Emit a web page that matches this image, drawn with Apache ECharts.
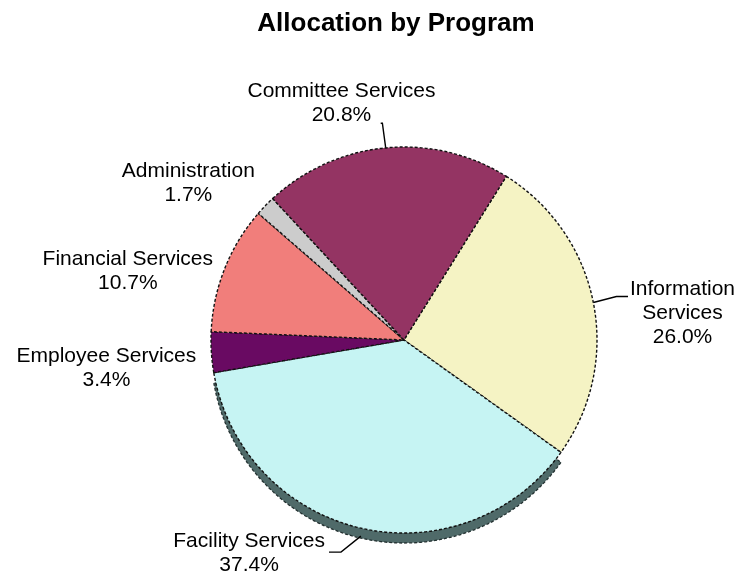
<!DOCTYPE html>
<html>
<head>
<meta charset="utf-8">
<title>Allocation by Program</title>
<script src="https://cdn.jsdelivr.net/npm/echarts@6/dist/echarts.min.js"></script>
<style>
  html, body { margin: 0; padding: 0; background: #ffffff; }
  #chart { width: 740px; height: 577px; }
</style>
</head>
<body>
<div id="chart"></div>
<script>
// Budget share per program, in percent (clockwise from the upper right)
const programs = ['Information Services', 'Facility Services', 'Employee Services',
                  'Financial Services', 'Administration', 'Committee Services'];
const percents = [26.0, 37.4, 3.4, 10.7, 1.7, 20.8];
const sliceColors = ['#f5f3c4', '#c6f4f3', '#690a62', '#f17e7b', '#cccccc', '#943463'];
const wrappedNames = { 'Information Services': 'Information\nServices' };
const withLeader = ['Information Services', 'Facility Services', 'Committee Services'];

// Pie geometry in pixels
const CX = 404, CY = 340, R = 193, START_ANGLE = 58;
const DEPTH = 10;          // height of the pie's side wall
const LABEL_GAP = 12;      // space between rim and label block
const LINE_H = 24;
const FONT = "'Liberation Sans', Arial, Helvetica, sans-serif";

// Hand adjustments of label blocks away from their radial spot
const labelShift = {
  'Information Services': [20, 24],
  'Facility Services': [-100, -26],
  'Employee Services': [-2, 9],
  'Financial Services': [-4, 40],
  'Administration': [-22, 31],
  'Committee Services': [-40, 0]
};

const total = percents.reduce((a, b) => a + b, 0);
const midAngles = [];
let acc = 0;
percents.forEach(v => {
  midAngles.push((90 - START_ANGLE + 360 * (acc + v / 2) / total) * Math.PI / 180);
  acc += v;
});

const clamp = (v, lo, hi) => Math.max(lo, Math.min(hi, v));

function placeLabel(p) {
  const name = programs[p.dataIndex];
  const a = midAngles[p.dataIndex];
  const ux = Math.sin(a), uy = -Math.cos(a);
  const w = p.labelRect.width, h = p.labelRect.height;
  const t = R + LABEL_GAP + (w / 2) * Math.abs(ux) + (h / 2) * Math.abs(uy);
  const s = labelShift[name] || [0, 0];
  const cx = CX + t * ux + s[0];
  const cy = CY + t * uy + s[1];
  const out = { x: cx, y: cy, align: 'center', verticalAlign: 'middle' };
  if (withLeader.indexOf(name) >= 0) {
    const below = uy > 0.3;
    const ex = CX + R * ux;
    const ey = CY + R * uy + (below ? DEPTH * 0.8 : 0);
    const left = cx - w / 2, right = cx + w / 2, top = cy - h / 2, bottom = cy + h / 2;
    let end;
    if (ex < left || ex > right) {
      const yEnd = below ? top + LINE_H - 1 : clamp(ey - 6, top + 10, bottom - 10);
      end = [ex < left ? left - 2 : right + 4, yEnd];
    } else {
      end = [ex - 5, ey < top ? top + 2 : bottom - 4];
    }
    const dx = ex - end[0];
    const mid = below
      ? [end[0] + Math.sign(dx) * 12, end[1]]
      : [end[0] + Math.sign(dx) * Math.min(12, Math.abs(dx) / 3), end[1]];
    out.labelLinePoints = [[ex, ey], mid, end];
  }
  return out;
}

const mainData = programs.map((name, i) => ({
  name: name,
  value: percents[i],
  itemStyle: { color: sliceColors[i] },
  labelLine: { show: withLeader.indexOf(name) >= 0 }
}));

// Side wall only shows below the large lower slice
const wallData = programs.map((name, i) => ({
  name: name,
  value: percents[i],
  itemStyle: name === 'Facility Services'
    ? { color: '#4f6a69', borderColor: '#223030', borderWidth: 1.3, borderType: [3, 2] }
    : { color: 'rgba(0,0,0,0)', borderWidth: 0 }
}));

const chart = echarts.init(document.getElementById('chart'), null, { renderer: 'canvas' });
chart.setOption({
  backgroundColor: '#ffffff',
  animation: false,
  title: {
    text: 'Allocation by Program',
    left: 391,
    top: 6,
    textAlign: 'center',
    textStyle: { fontFamily: FONT, fontSize: 26, fontWeight: 'bold', color: '#000000' }
  },
  series: [
    {
      type: 'pie',
      z: 1,
      silent: true,
      center: [CX, CY + DEPTH],
      radius: R,
      startAngle: START_ANGLE,
      clockwise: true,
      label: { show: false },
      labelLine: { show: false },
      emphasis: { disabled: true },
      data: wallData
    },
    {
      type: 'pie',
      z: 2,
      center: [CX, CY],
      radius: R,
      startAngle: START_ANGLE,
      clockwise: true,
      avoidLabelOverlap: false,
      itemStyle: { borderColor: '#111111', borderWidth: 1.4, borderType: [3, 2] },
      label: {
        show: true,
        position: 'outside',
        fontFamily: FONT,
        fontSize: 21,
        lineHeight: LINE_H,
        color: '#000000',
        formatter: p => (wrappedNames[p.name] || p.name) + '\n' + p.value.toFixed(1) + '%'
      },
      labelLine: { lineStyle: { color: '#000000', width: 1.4 } },
      labelLayout: placeLabel,
      emphasis: { disabled: true },
      data: mainData
    }
  ]
});
</script>
</body>
</html>
